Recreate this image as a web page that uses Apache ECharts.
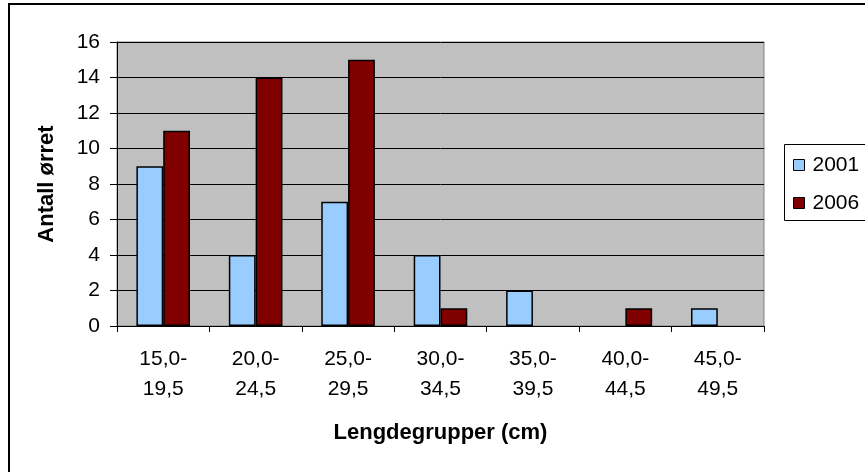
<!DOCTYPE html>
<html>
<head>
<meta charset="utf-8">
<script src="https://cdn.jsdelivr.net/npm/echarts@6/dist/echarts.min.js"></script>
<style>html,body{margin:0;padding:0;background:#fff}#c{width:865px;height:472px}</style>
</head>
<body>
<div id="c"></div>
<script>
var categories = ['15,0-\n19,5','20,0-\n24,5','25,0-\n29,5','30,0-\n34,5','35,0-\n39,5','40,0-\n44,5','45,0-\n49,5'];
var seriesNames = ['2001','2006'];
var values2001 = [9,4,7,4,2,0,1];
var values2006 = [11,14,15,1,0,1,0];
var yTicks = {min:0, max:16, interval:2};

function noZero(arr){ return arr.map(function(v){ return v === 0 ? '-' : v; }); }

var FONT = '"Liberation Sans", Arial, sans-serif';
var chart = echarts.init(document.getElementById('c'), null, {renderer:'canvas'});
chart.setOption({
  animation:false,
  backgroundColor:'#fff',
  graphic:[
    {type:'rect', shape:{x:9, y:4, width:900, height:520}, style:{fill:'none', stroke:'#000', lineWidth:2}, z:-1},
    {type:'rect', shape:{x:784.5, y:144.5, width:120, height:76}, style:{fill:'#fff', stroke:'#000', lineWidth:1}, z:1}
  ],
  grid:{left:117, top:42, right:101, bottom:146, show:true, backgroundColor:'#C0C0C0', borderColor:'#808080', borderWidth:1},
  legend:{
    orient:'vertical', left:788, top:149, itemWidth:11, itemHeight:11, itemGap:16, icon:'rect',
    itemStyle:{borderColor:'#000', borderWidth:1},
    textStyle:{fontFamily:FONT, fontSize:21, color:'#000', lineHeight:22, padding:[0,0,0,3]},
    data:seriesNames, z:5
  },
  xAxis:{
    type:'category', data:categories,
    axisLine:{lineStyle:{color:'#000', width:1}},
    axisTick:{show:true, length:6, lineStyle:{color:'#000'}},
    axisLabel:{fontFamily:FONT, fontSize:21, color:'#000', lineHeight:30, margin:18, interval:0},
    name:'Lengdegrupper (cm)', nameLocation:'middle', nameGap:96,
    nameTextStyle:{fontFamily:FONT, fontSize:22, fontWeight:'bold', color:'#000'}
  },
  yAxis:{
    type:'value', min:yTicks.min, max:yTicks.max, interval:yTicks.interval,
    axisLine:{show:true, lineStyle:{color:'#000'}},
    axisTick:{show:true, length:7, lineStyle:{color:'#000'}},
    axisLabel:{fontFamily:FONT, fontSize:21, color:'#000', margin:17},
    splitLine:{show:true, lineStyle:{color:'#000', width:1}},
    name:'Antall ørret', nameLocation:'middle', nameGap:59,
    nameTextStyle:{fontFamily:FONT, fontSize:22, fontWeight:'bold', color:'#000'}
  },
  series:[
    {name:seriesNames[0], type:'bar', data:noZero(values2001), barGap:'0%', barCategoryGap:'42%',
     itemStyle:{color:'#99CCFF', borderColor:'#000', borderWidth:1.5}},
    {name:seriesNames[1], type:'bar', data:noZero(values2006), barGap:'0%', barCategoryGap:'42%',
     itemStyle:{color:'#800000', borderColor:'#000', borderWidth:1.5}}
  ]
});
</script>
</body>
</html>
